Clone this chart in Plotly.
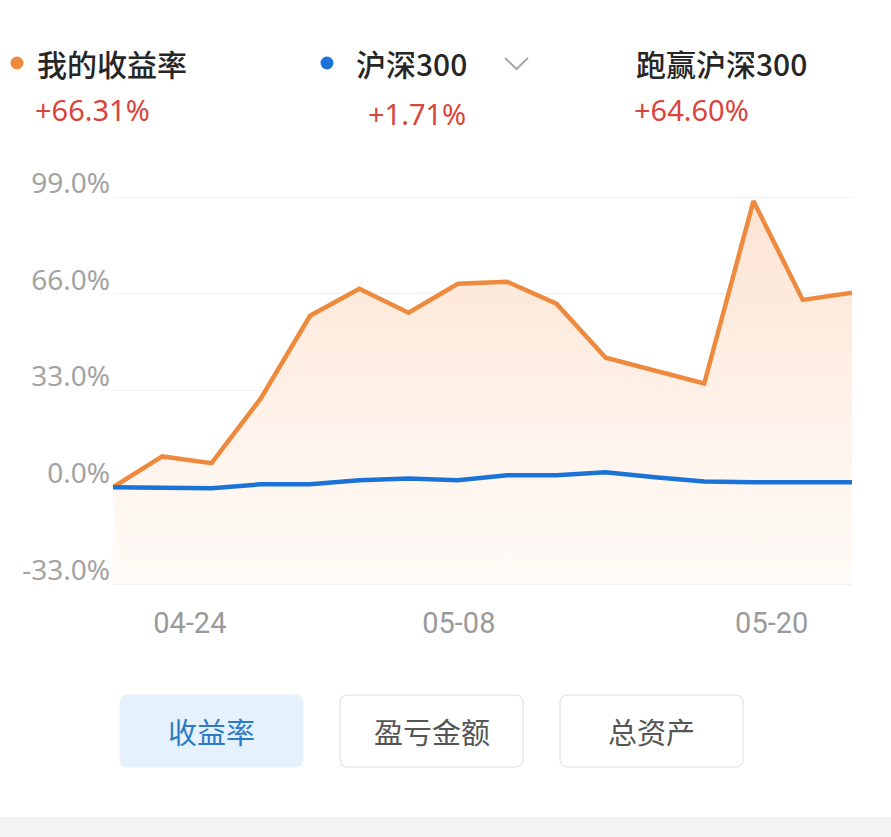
import plotly.graph_objects as go

W, H = 891, 837

# ---- data ----
x_index = list(range(16))
my_return = [0, 10.5, 8.2, 30.3, 58.5, 67.7, 59.5, 69.4, 70.1, 62.6, 44.2, 39.8, 35.4, 97.6, 63.9, 66.31]
hs300 = [0, -0.1, -0.3, 1.0, 1.0, 2.4, 3.0, 2.4, 4.1, 4.1, 5.1, 3.4, 2.0, 1.7, 1.7, 1.71]
y_ticks = [-33, 0, 33, 66, 99]
y_tick_labels = ["-33.0%", "0.0%", "33.0%", "66.0%", "99.0%"]
x_tick_labels = ["04-24", "05-08", "05-20"]
x_tick_pos = [1.56, 7.02, 13.37]
legend_names = ["我的收益率", "沪深300", "跑赢沪深300"]
legend_values = ["+66.31%", "+1.71%", "+64.60%"]
buttons = ["收益率", "盈亏金额", "总资产"]

ORANGE = "#ee8a3e"
BLUE = "#1b73d8"
RED = "#d8453c"
CJK = "Noto Sans CJK SC, Noto Sans, sans-serif"


def px(x):
    return x / W


def py(y):
    return 1 - y / H


fig = go.Figure()

# baseline for the fill
fig.add_trace(go.Scatter(x=x_index, y=[y_ticks[0]] * len(x_index), mode="lines",
                         line=dict(width=0, color="rgba(0,0,0,0)"), hoverinfo="skip",
                         showlegend=False))
fig.add_trace(go.Scatter(x=x_index, y=my_return, mode="lines", name=legend_names[0],
                         line=dict(color=ORANGE, width=4.5), fill="tonexty",
                         fillgradient=dict(type="vertical", start=y_ticks[0], stop=y_ticks[-1],
                                           colorscale=[[0, "rgb(255,251,248)"],
                                                       [0.25, "rgb(255,246,240)"],
                                                       [1, "rgb(253,228,211)"]]),
                         showlegend=False))
fig.add_trace(go.Scatter(x=x_index, y=hs300, mode="lines", name=legend_names[1],
                         line=dict(color=BLUE, width=4.5), showlegend=False))

ppu = (584 - 197) / 132.0
ymin, ymax = -34.5, 100.5
dom_bottom = py(584 + 1.5 * ppu)
dom_top = py(197 - 1.5 * ppu)

fig.update_layout(
    width=W, height=H, margin=dict(l=0, r=0, t=0, b=0, autoexpand=False),
    paper_bgcolor="white", plot_bgcolor="white",
    xaxis=dict(domain=[px(113), px(852)], range=[0, 15], showgrid=False, zeroline=False,
               showline=False, tickmode="array", tickvals=x_tick_pos, ticktext=x_tick_labels,
               tickfont=dict(family="Liberation Sans Narrow, Roboto, sans-serif", size=29, color="#9a9a9a"),
               ticks="", ticklabelstandoff=15, automargin=False),
    yaxis=dict(domain=[dom_bottom, dom_top], range=[ymin, ymax], tickmode="array",
               tickvals=y_ticks, ticktext=y_tick_labels, showgrid=True, gridcolor="#f1f1f1",
               gridwidth=1, zeroline=False, showline=False, ticks="",
               tickfont=dict(family="Noto Sans, sans-serif", size=28, color="#a3a3a3"),
               ticklabelshift=-14, ticklabelstandoff=2, automargin=False),
    hovermode=False,
)

shapes = []
annotations = []

# legend header
dots = [(17, 63, ORANGE), (327, 63, BLUE)]
for cx, cy, c in dots:
    r = 6.5
    shapes.append(dict(type="circle", xref="paper", yref="paper",
                       x0=px(cx - r), x1=px(cx + r), y0=py(cy + r), y1=py(cy - r),
                       fillcolor=c, line=dict(width=0)))
name_pos = [(35, 63), (354, 63), (634, 63)]
val_pos = [(33, 110), (366, 113), (632, 110)]
for i in range(3):
    annotations.append(dict(text=legend_names[i], xref="paper", yref="paper",
                            x=px(name_pos[i][0]), y=py(name_pos[i][1]), xanchor="left", yanchor="middle",
                            showarrow=False, font=dict(family=CJK, size=30, color="#262626", weight=500)))
    annotations.append(dict(text=legend_values[i], xref="paper", yref="paper",
                            x=px(val_pos[i][0]), y=py(val_pos[i][1]), xanchor="left", yanchor="middle",
                            showarrow=False, font=dict(family="Noto Sans, sans-serif", size=29, color=RED)))
# chevron
shapes.append(dict(type="path", xref="paper", yref="paper",
                   path=f"M {px(505)} {py(58)} L {px(516.5)} {py(69)} L {px(528)} {py(58)}",
                   line=dict(color="#a8a8a8", width=2)))


# buttons
def rounded(x0, y0, x1, y1, r):
    p = [
        f"M {px(x0 + r)} {py(y0)}",
        f"L {px(x1 - r)} {py(y0)}",
        f"Q {px(x1)} {py(y0)} {px(x1)} {py(y0 + r)}",
        f"L {px(x1)} {py(y1 - r)}",
        f"Q {px(x1)} {py(y1)} {px(x1 - r)} {py(y1)}",
        f"L {px(x0 + r)} {py(y1)}",
        f"Q {px(x0)} {py(y1)} {px(x0)} {py(y1 - r)}",
        f"L {px(x0)} {py(y0 + r)}",
        f"Q {px(x0)} {py(y0)} {px(x0 + r)} {py(y0)}",
        "Z",
    ]
    return " ".join(p)


btn_x = [120, 340, 560]
for i, bx in enumerate(btn_x):
    active = i == 0
    shapes.append(dict(type="path", xref="paper", yref="paper",
                       path=rounded(bx, 695, bx + 183, 767, 8),
                       fillcolor="#e5f1fc" if active else "white",
                       line=dict(color="#e5f1fc" if active else "#dcdcdc", width=1)))
    annotations.append(dict(text=buttons[i], xref="paper", yref="paper",
                            x=px(bx + 91.5), y=py(731), xanchor="center", yanchor="middle",
                            showarrow=False,
                            font=dict(family=CJK, size=29, color="#2b7cc4" if active else "#555555")))

# bottom gray strip
shapes.append(dict(type="rect", xref="paper", yref="paper", x0=0, x1=1, y0=0, y1=py(817),
                   fillcolor="#f3f3f3", line=dict(width=0), layer="below"))

fig.update_layout(shapes=shapes, annotations=annotations)
fig.write_html("out.html", config={"displayModeBar": False},
               post_script="document.body.style.margin='0';document.documentElement.style.overflow='hidden';")
